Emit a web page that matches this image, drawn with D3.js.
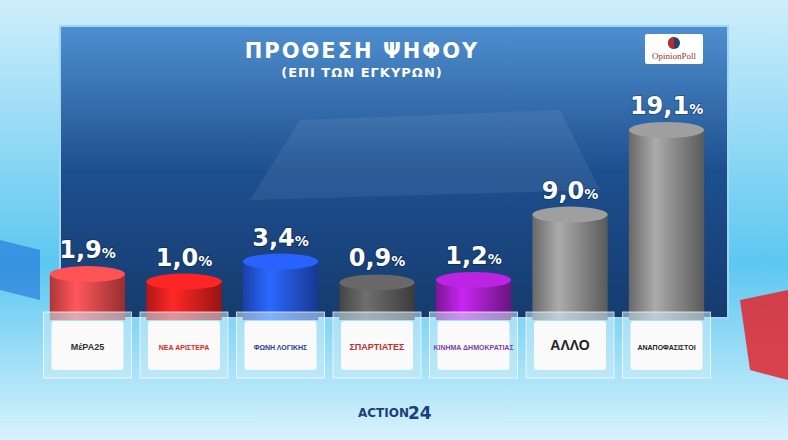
<!DOCTYPE html>
<html><head><meta charset="utf-8">
<script src="https://cdn.jsdelivr.net/npm/d3@7"></script>
<style>body{margin:0;overflow:hidden}svg{display:block;font-family:"DejaVu Sans",sans-serif}</style>
</head><body>
<svg id="c" width="788" height="440"></svg>
<script>
// party labels and vote share
const parties = ["ΜέΡΑ25", "ΝΕΑ ΑΡΙΣΤΕΡΑ", "ΦΩΝΗ ΛΟΓΙΚΗΣ", "ΣΠΑΡΤΙΑΤΕΣ", "ΚΙΝΗΜΑ ΔΗΜΟΚΡΑΤΙΑΣ", "ΑΛΛΟ", "ΑΝΑΠΟΦΑΣΙΣΤΟΙ"];
const values = [1.9, 1.0, 3.4, 0.9, 1.2, 9.0, 19.1];
const colors = ["#e8474a", "#e8201f", "#2355e0", "#5a5a5a", "#a21fc4", "#8a8a8a", "#8a8a8a"];
const labelColors = ["#333", "#e0281e", "#1f3f8f", "#c0302a", "#7a3fa8", "#222", "#222"];

const svg = d3.select("#c");
const defs = svg.append("defs");

// background
const bg = defs.append("linearGradient").attr("id", "bg").attr("x1", 0).attr("y1", 0).attr("x2", 0).attr("y2", 1);
bg.append("stop").attr("offset", 0).attr("stop-color", "#cfeefb");
bg.append("stop").attr("offset", 0.6).attr("stop-color", "#5cc7f0");
bg.append("stop").attr("offset", 1).attr("stop-color", "#d8f3fc");
svg.append("rect").attr("width", 788).attr("height", 440).attr("fill", "url(#bg)");
svg.append("path").attr("d", "M740,300 L788,290 L788,380 L750,370Z").attr("fill", "#e0262e").attr("opacity", 0.85);
svg.append("path").attr("d", "M0,240 L40,250 L40,300 L0,290Z").attr("fill", "#1e6fd6").attr("opacity", 0.6);

// panel
const pg = defs.append("linearGradient").attr("id", "pg").attr("x1", 0).attr("y1", 0).attr("x2", 0).attr("y2", 1);
pg.append("stop").attr("offset", 0).attr("stop-color", "#4f8fcf");
pg.append("stop").attr("offset", 0.5).attr("stop-color", "#1d4f8f");
pg.append("stop").attr("offset", 1).attr("stop-color", "#163b6e");
svg.append("rect").attr("x", 60).attr("y", 26).attr("width", 668).attr("height", 292)
  .attr("fill", "url(#pg)").attr("stroke", "#9fd6f2").attr("stroke-width", 2);
// blurred watermark band
svg.append("path").attr("d", "M250,200 L300,120 L560,110 L600,190 Z").attr("fill", "#ffffff").attr("opacity", 0.07);

// title
svg.append("text").attr("x", 362).attr("y", 58).attr("text-anchor", "middle").attr("fill", "#fff")
  .attr("font-size", 21).attr("font-weight", "bold").attr("letter-spacing", 2).text("ΠΡΟΘΕΣΗ  ΨΗΦΟΥ");
svg.append("text").attr("x", 362).attr("y", 77).attr("text-anchor", "middle").attr("fill", "#fff")
  .attr("font-size", 13).attr("font-weight", "bold").attr("letter-spacing", 1).text("(ΕΠΙ  ΤΩΝ  ΕΓΚΥΡΩΝ)");
svg.append("rect").attr("x", 645).attr("y", 34).attr("width", 58).attr("height", 30).attr("fill", "#fff").attr("rx", 2);
svg.append("circle").attr("cx", 674).attr("cy", 43).attr("r", 6).attr("fill", "#2a3f6a");
svg.append("path").attr("d", "M674,37 A6,6 0 0,0 674,49Z").attr("fill", "#c0282d");
svg.append("text").attr("x", 674).attr("y", 59).attr("text-anchor", "middle").attr("fill", "#a0302a")
  .attr("font-size", 9).attr("font-family", "Liberation Serif").text("OpinionPoll");

// scales
const x = d3.scaleBand().domain(parties).range([45, 709]).paddingInner(0.22).paddingOuter(0.05);
const h = d3.scaleLinear().domain([0, 19.1]).range([30, 190]);
const base = 320, ry = 8;

parties.forEach((p, i) => {
  const g = defs.append("linearGradient").attr("id", "g" + i);
  const c = d3.color(colors[i]);
  g.append("stop").attr("offset", 0).attr("stop-color", c.darker(0.8));
  g.append("stop").attr("offset", 0.35).attr("stop-color", c.brighter(0.6));
  g.append("stop").attr("offset", 1).attr("stop-color", c.darker(1.2));
});

const bars = svg.selectAll("g.bar").data(parties).join("g").attr("class", "bar");
bars.append("rect").attr("x", d => x(d)).attr("width", x.bandwidth())
  .attr("y", (d, i) => base - h(values[i])).attr("height", (d, i) => h(values[i]))
  .attr("fill", (d, i) => `url(#g${i})`);
bars.append("ellipse").attr("cx", d => x(d) + x.bandwidth() / 2).attr("cy", (d, i) => base - h(values[i]))
  .attr("rx", x.bandwidth() / 2).attr("ry", ry)
  .attr("fill", (d, i) => d3.color(colors[i]).brighter(0.4));

// value labels
const vt = bars.append("text").attr("x", d => x(d) + x.bandwidth() / 2)
  .attr("y", (d, i) => base - h(values[i]) - 16).attr("text-anchor", "middle").attr("fill", "#fff")
  .attr("font-weight", "bold").style("paint-order", "stroke").attr("stroke", "rgba(0,0,0,0.25)").attr("stroke-width", 2);
vt.append("tspan").attr("font-size", 24).text((d, i) => d3.format(".1f")(values[i]).replace(".", ","));
vt.append("tspan").attr("font-size", 14).text("%");

// label boxes
bars.append("rect").attr("x", d => x(d) + x.bandwidth() / 2 - 44).attr("y", 312).attr("width", 88).attr("height", 66)
  .attr("fill", "rgba(200,235,250,0.55)").attr("stroke", "rgba(255,255,255,0.7)");
bars.append("rect").attr("x", d => x(d) + x.bandwidth() / 2 - 36).attr("y", 321).attr("width", 72).attr("height", 49)
  .attr("rx", 3).attr("fill", "#fafafa");
bars.append("text").attr("x", d => x(d) + x.bandwidth() / 2).attr("y", 350).attr("text-anchor", "middle")
  .attr("fill", (d, i) => labelColors[i]).attr("font-weight", "bold")
  .attr("font-family", "Liberation Sans Narrow, Liberation Sans")
  .attr("font-size", (d, i) => i === 5 ? 14 : (d.length > 10 ? 7 : 9)).text(d => d);

// footer logo
svg.append("text").attr("x", 358).attr("y", 417).attr("fill", "#1d3f7a").attr("font-size", 12)
  .attr("font-weight", "bold").text("ACTION");
svg.append("text").attr("x", 408).attr("y", 419).attr("fill", "#1d3f7a").attr("font-size", 17)
  .attr("font-weight", "bold").text("24");
</script>
</body></html>
